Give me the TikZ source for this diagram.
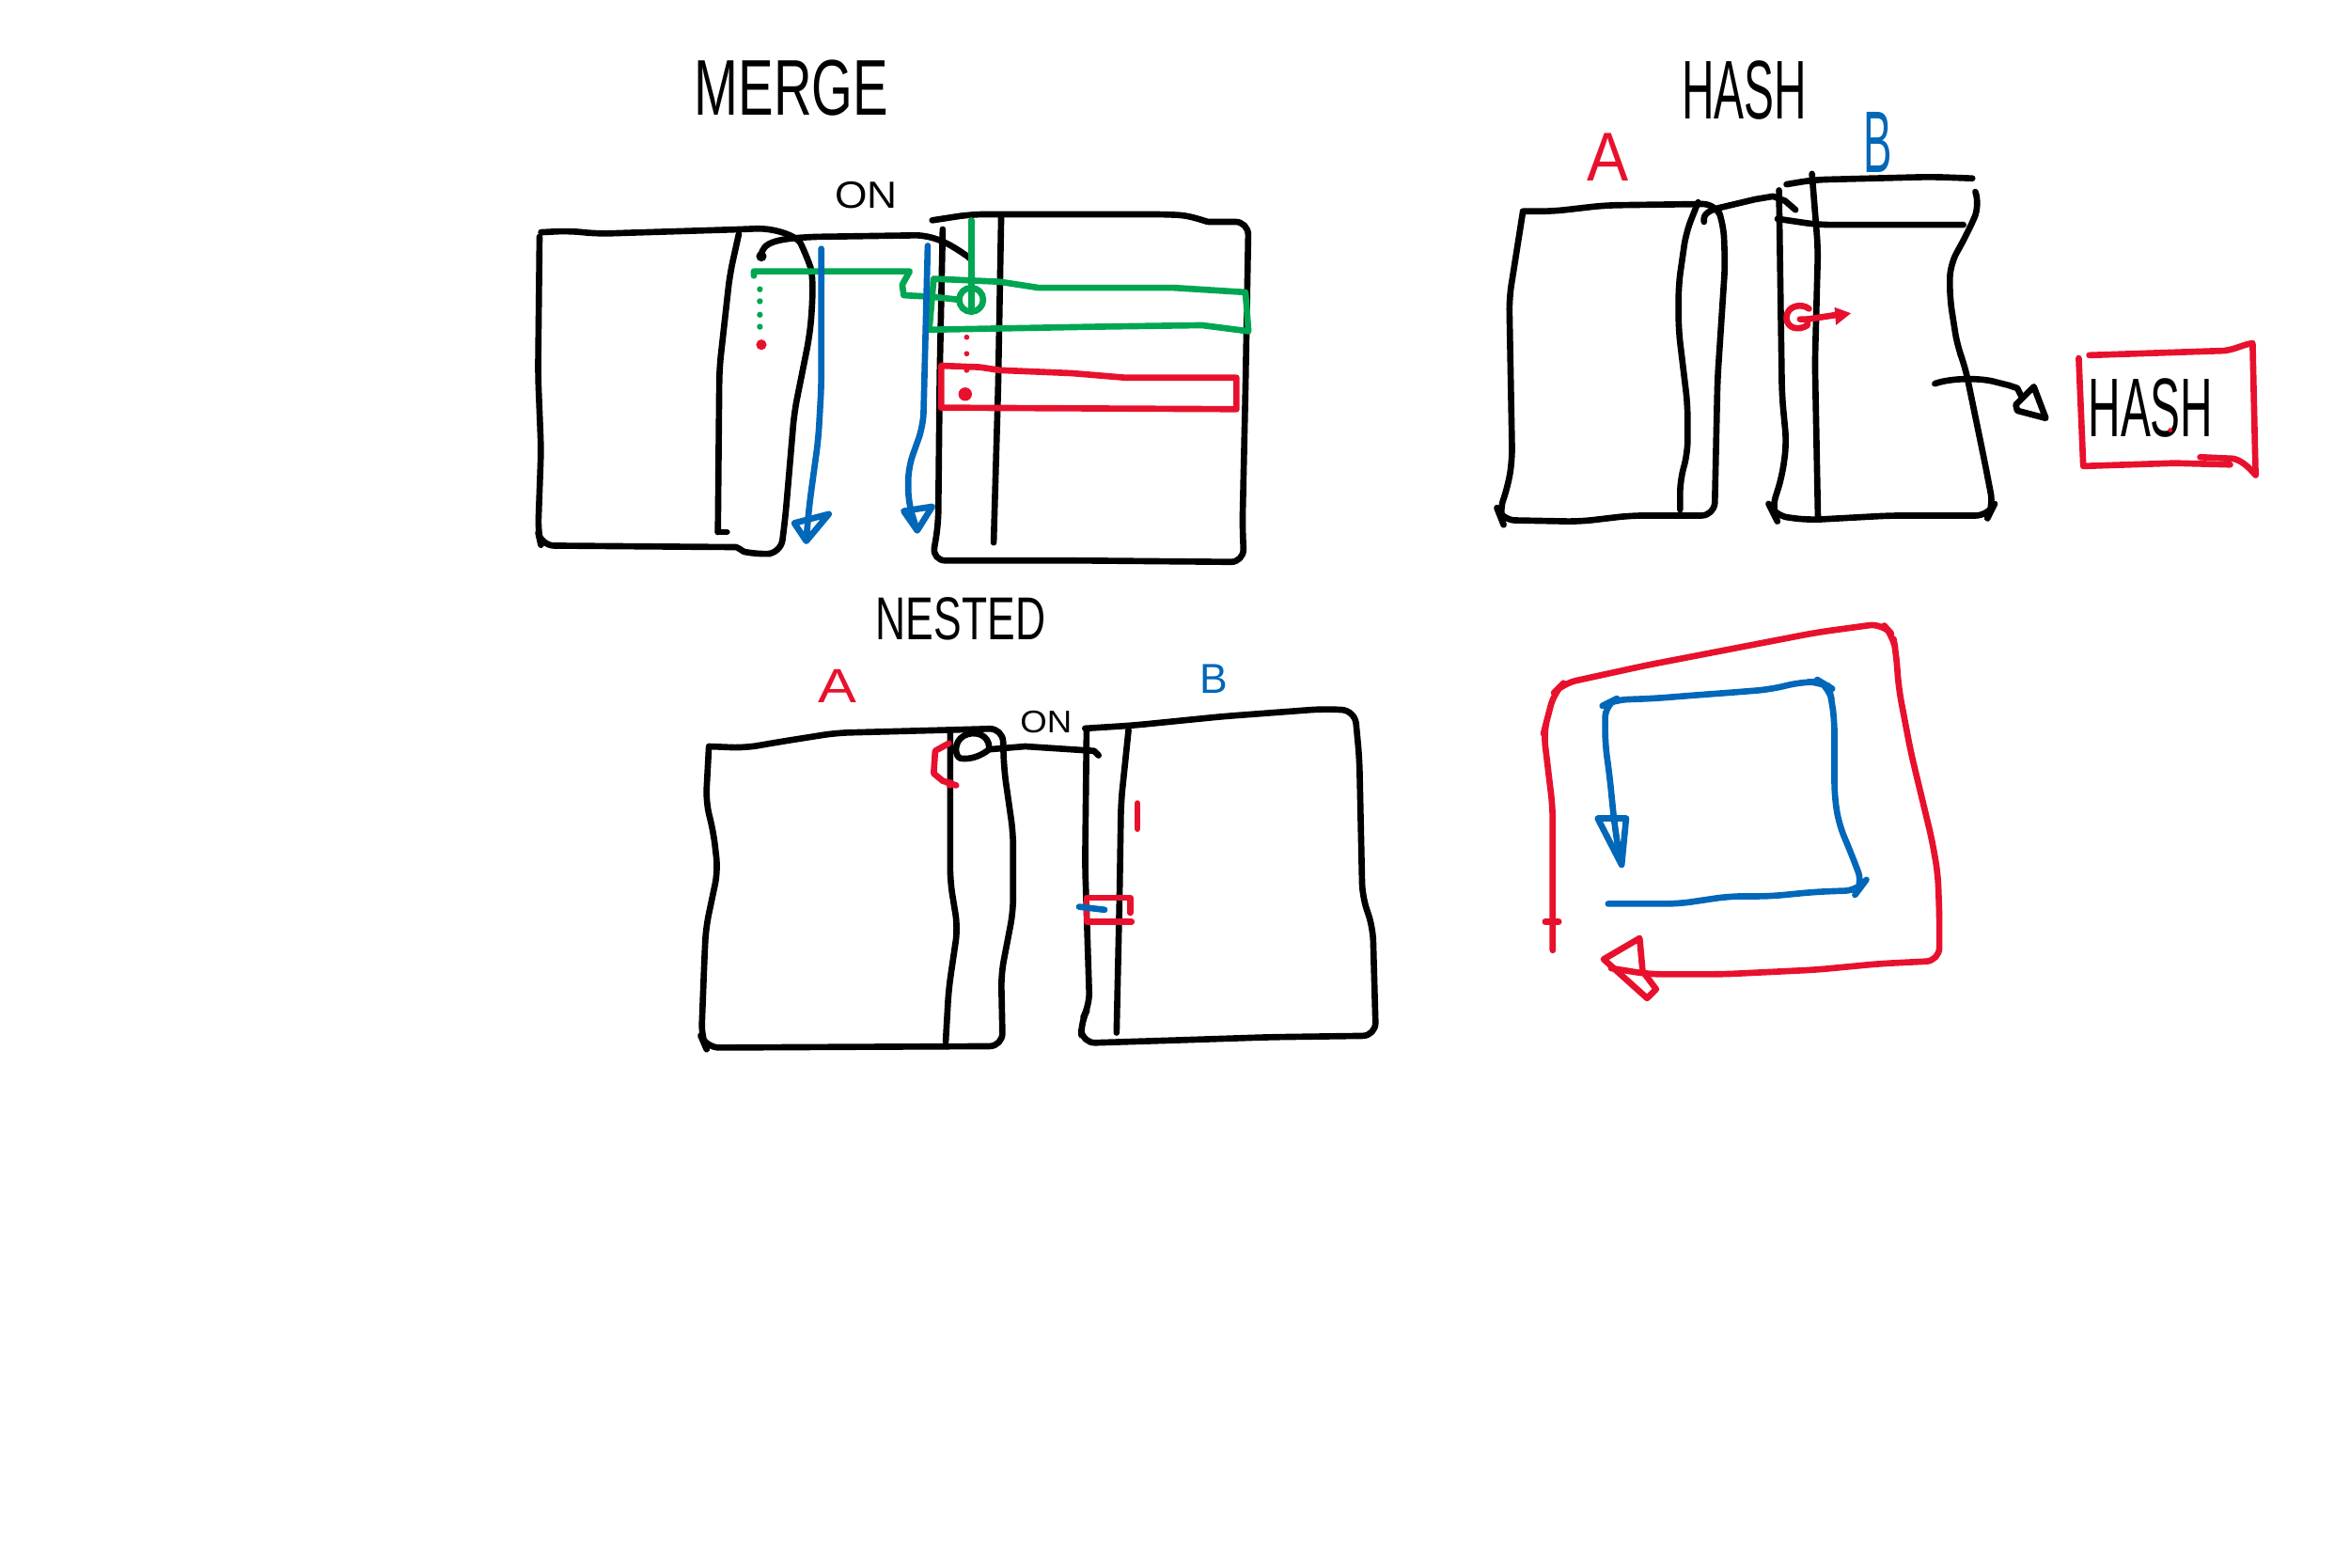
\documentclass[tikz,border=0pt]{standalone}
\usepackage{fontspec}
\setmainfont{Liberation Sans}
\definecolor{skred}{HTML}{E8112D}
\definecolor{skblue}{HTML}{0067B9}
\definecolor{skgreen}{HTML}{00A652}
\newcommand\sktext[3]{\fontsize{#1}{#1}\selectfont\scalebox{#2}[1]{#3}}
\tikzset{
  pen/.style={line width=1.9pt, line cap=round, line join=round},
  softpen/.style={pen, rounded corners=4pt},
  txt/.style={inner sep=0pt, anchor=center},
}

\begin{document}
\begin{tikzpicture}[x=0.016cm, y=-0.016cm]
    \useasboundingbox (0,0) rectangle (1568,1046);
    \fill[white] (0,0) rectangle (1568,1046);

    % --- MERGE ---
    \node[txt] (mergeT) at (528,59) {\sktext{24}{0.67}{MERGE}};
    \node[txt] (mergeOn) at (578,130) {\sktext{11.5}{1.1}{ON}};

    % tabella sinistra
    \draw[softpen] (361,155) -- (380,154) -- (398,156) -- (495,153)
        .. controls (518,152) and (532,158) .. (538,170)
        .. controls (543,185) and (542,205) .. (540,225)
        -- (530,275) -- (524,345) -- (521,369) -- (505,370)
        .. controls (496,368) and (492,365) .. (482,365)
        -- (361,364) -- (359,355) -- (361,300) -- (359,250) -- (360,158);
    \draw[softpen] (493,156) -- (487,183) -- (480,246) -- (479,355);
    \draw[pen] (479,355) -- (485,355);

    % tabella destra
    \draw[softpen] (622,147) -- (648,143) -- (778,143)
        .. controls (795,144) and (805,148) .. (815,148) -- (833,148)
        -- (831,260) -- (829,350) -- (830,375) -- (720,374) -- (622,374)
        -- (626,350) -- (627,250) -- (629,153);
    \draw[softpen] (668,145) -- (666,258) -- (663,362);

    % ON (collegamento)
    \draw[pen] (508,171) .. controls (508,161) and (520,159) .. (545,158)
        -- (612,157) .. controls (628,158) and (638,166) .. (647,172);
    \fill (508,171) circle (3.5);
    \fill (647,172) circle (2.5);

    % percorso verde
    \draw[pen, skgreen] (503,184) -- (503,181) -- (551,181) -- (607,181)
        -- (602,190) -- (603,197) -- (622,198) -- (640,200);
    \draw[pen, skgreen] (648,147) -- (648,205);
    \draw[pen, skgreen] (648,200) circle (8);
    \draw[pen, skgreen] (623,186) -- (667,188) -- (693,192) -- (783,192)
        -- (831,195) -- (833,221) -- (802,217) -- (731,218) -- (620,220) -- cycle;
    \foreach \y in {193,201,210,218}
        \fill[skgreen] (507,\y) circle (2);

    % percorso rosso
    \fill[skred] (508,230) circle (3.5);
    \foreach \y in {225,236,247}
        \fill[skred] (645,\y) circle (1.8);
    \fill[skred] (644,263) circle (4.5);
    \draw[pen, skred] (628,244) -- (654,245) -- (667,247) -- (715,249)
        -- (751,252) -- (825,252) -- (825,273) -- (628,272) -- cycle;

    % frecce blu
    \draw[softpen, skblue] (548,166) -- (548,258) -- (546,293) -- (540,337) -- (538,359);
    \draw[pen, skblue] (530,349) -- (553,343) -- (538,361) -- cycle;
    \draw[softpen, skblue] (619,164) -- (616,284) -- (606,312) -- (606,335) -- (611,351);
    \draw[pen, skblue] (603,341) -- (622,338) -- (612,354) -- cycle;

    % --- HASH ---
    \node[txt] (hashT) at (1164,60) {\sktext{25.3}{0.54}{HASH}};
    \node[txt, skred] (hashA) at (1073,105) {\sktext{21}{0.9}{A}};
    \node[txt, skblue] (hashB) at (1253,95) {\sktext{26.6}{0.49}{B}};

    % tabella A
    \draw[softpen] (1016,141) -- (1036,141) -- (1071,137) -- (1145,136)
        -- (1150,150) -- (1151,177) -- (1146,253) -- (1144,344) -- (1088,344)
        -- (1054,348) -- (1002,347) -- (1000,342) -- (1006,325) -- (1009,307)
        -- (1007,199) -- (1016,142);
    \draw[softpen] (1133,135) -- (1125,155) -- (1120,190) -- (1120,220)
        -- (1126,270) -- (1126,303) -- (1121,320) -- (1121,340);

    % collegamento A-B
    \draw[pen] (1137,148) .. controls (1136,143) and (1140,140) .. (1150,138)
        -- (1171,133) -- (1183,131) -- (1191,134) -- (1198,140);

    % tabella B
    \draw[softpen] (1192,123) -- (1210,120) -- (1289,118) -- (1316,119);
    \draw[softpen] (1186,146) -- (1213,150) -- (1310,150);
    \draw[softpen] (1187,127) -- (1189,264) -- (1192,296) -- (1189,318)
        -- (1182,340) -- (1184,344) -- (1206,347) -- (1261,344) -- (1327,344)
        -- (1330,338) -- (1324,307) -- (1311,244) -- (1306,231) -- (1301,199)
        -- (1301,177) -- (1313,155) -- (1321,137) -- (1318,128);
    \draw[softpen] (1209,116) -- (1213,166) -- (1211,242) -- (1213,346);

    % chiave + freccia rossa
    \draw[pen, skred] (1207,206) .. controls (1202,202) and (1192,204) .. (1192,212)
        .. controls (1192,219) and (1200,221) .. (1206,217) -- (1206,213) -- (1201,213);
    \draw[pen, skred] (1206,213) -- (1226,210);
    \fill[skred] (1224,205) -- (1235,209) -- (1225,217) -- cycle;

    % verso la tabella hash
    \draw[pen] (1291,256) .. controls (1302,252) and (1322,252) .. (1332,255)
        -- (1340,257) -- (1346,259) -- (1349,265);
    \draw[pen] (1357,258) -- (1365,279) -- (1346,274) -- (1345,270) -- cycle;

    \draw[pen, skred] (1394,237) -- (1484,234)
        .. controls (1492,233) and (1496,230) .. (1503,229)
        -- (1505,317) .. controls (1500,311) and (1495,307) .. (1490,306) -- (1468,305);
    \draw[pen, skred] (1387,239) -- (1390,311) -- (1451,309) -- (1488,310);
    \node[txt] (hashBox) at (1435,272) {\sktext{25.3}{0.54}{HASH}};
    \fill[skred] (1448,287) circle (1.5);

    % --- NESTED ---
    \node[txt] (nestedT) at (641,413) {\sktext{18.4}{0.69}{NESTED}};
    \node[txt, skred] (nestedA) at (559,458) {\sktext{14.6}{1.2}{A}};
    \node[txt, skblue] (nestedB) at (810,453) {\sktext{12.7}{1.0}{B}};
    \node[txt] (nestedOn) at (698,482) {\sktext{9.5}{1.1}{ON}};

    % tabella A
    \draw[softpen] (473,498) -- (497,499) -- (520,495) -- (558,489) -- (634,487) -- (669,486)
        -- (670,514) -- (676,556) -- (676,608) -- (668,650) -- (669,698)
        -- (471,699) -- (468,692) -- (470,640) -- (471,619) -- (479,581)
        -- (476,555) -- (471,535) -- (473,498);
    \draw[softpen] (634,488) -- (634,588) -- (639,619) -- (633,660) -- (631,695);

    % tabella B
    \draw[softpen] (724,486) -- (756,484) -- (816,478) -- (883,473) -- (904,474)
        -- (907,506) -- (909,598) -- (916,619) -- (918,691) -- (847,692)
        -- (786,694) -- (722,696) -- (721,682) -- (727,671) -- (724,577)
        -- (725,487);
    \draw[softpen] (753,487) -- (748,535) -- (747,598) -- (745,689);

    % ON (collegamento)
    \draw[pen] (660,499) .. controls (660,490) and (650,487) .. (643,491)
        .. controls (636,495) and (637,505) .. (641,506)
        .. controls (648,507) and (655,504) .. (660,500)
        -- (672,499) -- (684,498) -- (730,501) -- (733,504);

    % segni rossi / blu
    \draw[pen, skred] (633,496) -- (624,501) -- (623,516) -- (629,521) -- (638,524);
    \fill[skred] (634,523) circle (3);
    \draw[pen, skred] (759,536) -- (759,553);
    \draw[pen, skred] (754,609) -- (754,599) -- (725,599) -- (725,615) -- (755,615);
    \draw[pen, skblue] (720,605) -- (737,607);

    % --- ciclo ---
    \draw[softpen, skred] (1036,634) -- (1036,539) -- (1030,489) -- (1032,481)
        -- (1037,462) -- (1043,456) -- (1098,444) -- (1212,422) -- (1256,416)
        -- (1263,424) -- (1265,435) -- (1267,460) -- (1275,502) -- (1289,560)
        -- (1293,583) -- (1294,610) -- (1294,641) -- (1254,643) -- (1212,647)
        -- (1150,650) -- (1100,650) -- (1075,646);
    \draw[pen, skred] (1031,615) -- (1040,615);
    \draw[pen, skred] (1070,640) -- (1094,626) -- (1096,648) -- (1105,660)
        -- (1099,666) -- cycle;

    \draw[softpen, skblue] (1073,603) -- (1120,603) -- (1154,598) -- (1181,598)
        -- (1212,595) -- (1240,594) -- (1243,590) -- (1235,569) -- (1227,550)
        -- (1224,531) -- (1224,481) -- (1222,466) -- (1220,458) -- (1215,455)
        -- (1202,455) -- (1181,460) -- (1156,462) -- (1129,464) -- (1104,466)
        -- (1077,467) -- (1071,470) -- (1071,496) -- (1074,518) -- (1077,548)
        -- (1081,575);
    \draw[pen, skblue] (1066,546) -- (1085,546) -- (1082,577) -- cycle;
\end{tikzpicture}
\end{document}
